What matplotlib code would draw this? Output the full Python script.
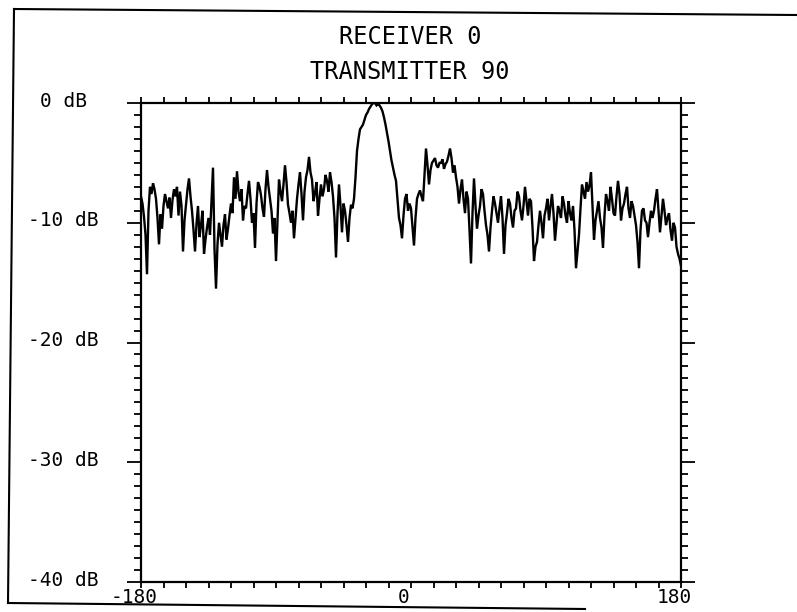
import matplotlib
matplotlib.use("Agg")
import matplotlib.pyplot as plt
import matplotlib.transforms as mtransforms
from matplotlib.lines import Line2D
from matplotlib.ticker import MultipleLocator, FixedLocator

# measured pattern, one sample per degree from -180 to 180
angles = list(range(-180, 181))
levels_db = [
    -7.8, -8.4, -9.5, -11.0, -14.3, -9.0, -7.0, -7.6, -6.7, -7.2,
    -8.0, -9.6, -11.8, -9.3, -10.5, -8.6, -7.6, -8.2, -8.8, -7.9,
    -9.6, -8.1, -7.2, -7.8, -7.0, -9.4, -7.4, -8.6, -12.4, -9.8,
    -8.5, -7.2, -6.3, -7.8, -9.0, -10.6, -12.4, -10.1, -8.6, -11.2,
    -10.2, -9.0, -12.6, -11.4, -10.4, -9.6, -11.0, -8.2, -5.4, -12.2,
    -15.5, -11.8, -10.0, -11.0, -12.0, -10.2, -9.3, -11.4, -10.5, -9.4,
    -8.4, -9.2, -6.2, -8.0, -5.7, -7.4, -8.2, -7.2, -9.8, -8.6,
    -8.8, -7.6, -6.5, -8.0, -10.0, -9.2, -12.1, -8.4, -6.6, -7.0,
    -7.7, -8.8, -9.5, -7.2, -5.6, -7.0, -8.0, -9.0, -10.9, -9.6,
    -13.2, -9.8, -6.4, -7.4, -8.2, -6.8, -5.2, -6.6, -8.5, -9.2,
    -10.0, -9.0, -11.3, -9.6, -8.0, -6.8, -5.8, -7.6, -9.8, -7.4,
    -6.2, -5.6, -4.5, -5.8, -6.4, -8.2, -7.5, -6.6, -9.4, -8.0,
    -6.8, -7.8, -7.2, -6.0, -6.5, -7.4, -5.8, -6.6, -7.8, -9.6,
    -12.9, -9.2, -6.8, -8.6, -10.8, -8.4, -9.0, -10.2, -11.6, -9.6,
    -8.5, -8.8, -8.0, -6.2, -4.0, -3.0, -2.2, -2.0, -1.8, -1.4,
    -1.0, -0.8, -0.5, -0.3, -0.1, 0.0, 0.0, -0.2, -0.1, -0.2,
    -0.4, -0.7, -1.2, -1.8, -2.5, -3.2, -4.0, -4.8, -5.4, -6.0,
    -6.5, -8.0, -9.6, -10.2, -11.3, -9.4, -8.0, -7.6, -9.0, -8.4,
    -8.8, -10.4, -11.9, -9.6, -8.0, -7.6, -7.3, -7.8, -8.2, -6.0,
    -3.8, -5.2, -6.8, -5.6, -5.0, -4.8, -4.6, -5.2, -5.4, -5.0,
    -5.0, -4.7, -5.5, -5.1, -4.9, -4.4, -3.8, -4.6, -5.8, -5.2,
    -6.2, -7.0, -8.4, -7.2, -6.4, -8.0, -9.2, -7.4, -8.0, -10.6,
    -13.4, -9.2, -6.3, -8.6, -10.5, -9.4, -8.6, -7.2, -7.6, -9.0,
    -10.2, -11.0, -12.4, -10.4, -9.0, -7.8, -8.4, -9.2, -10.0, -8.8,
    -7.8, -9.6, -12.6, -10.2, -9.2, -8.0, -8.4, -9.6, -10.4, -9.0,
    -8.8, -7.4, -7.8, -9.0, -9.8, -8.6, -7.0, -8.2, -9.4, -8.0,
    -8.2, -10.4, -13.2, -12.0, -11.6, -10.2, -9.0, -10.0, -11.3, -9.4,
    -8.8, -8.0, -9.8, -8.6, -7.6, -9.2, -11.5, -10.0, -8.6, -9.0,
    -9.6, -7.8, -8.4, -9.4, -10.0, -8.2, -9.2, -9.8, -8.6, -10.6,
    -13.8, -12.4, -11.0, -8.8, -6.8, -7.4, -8.0, -6.6, -7.4, -6.9,
    -5.8, -8.6, -11.4, -9.8, -9.0, -8.2, -9.6, -10.4, -12.1, -9.4,
    -7.6, -8.2, -9.0, -7.0, -8.0, -9.2, -9.4, -7.8, -6.5, -7.6,
    -9.8, -8.8, -8.4, -7.6, -7.0, -8.8, -9.6, -8.2, -8.6, -9.4,
    -10.2, -11.6, -13.8, -10.6, -9.0, -8.8, -9.8, -10.0, -11.2, -10.0,
    -9.0, -9.6, -9.0, -8.0, -7.2, -9.0, -10.8, -9.4, -8.0, -9.0,
    -10.2, -9.6, -9.2, -10.6, -11.5, -10.0, -10.4, -12.0, -12.6, -13.0,
    -13.6,
]

title_lines = ["RECEIVER 0", "TRANSMITTER 90"]
x_ticks = [-180, 0, 180]
x_labels = ["-180", "0", "180"]
y_ticks = [0, -10, -20, -30, -40]
y_labels = ["0 dB", "-10 dB", "-20 dB", "-30 dB", "-40 dB"]

W, H = 797, 612
fig = plt.figure(figsize=(W / 100, H / 100), dpi=100)


def fx(px):
    return px / W


def fy(py):
    return 1 - py / H


ax = fig.add_axes([fx(141), fy(582), fx(681) - fx(141), fy(103) - fy(582)])
ax.plot(angles, levels_db, color="black", linewidth=1.7, solid_joinstyle="miter")

ax.set_xlim(-180, 180)
ax.set_ylim(-40, 0)

ax.xaxis.set_major_locator(FixedLocator(x_ticks))
ax.xaxis.set_minor_locator(MultipleLocator(15))
ax.set_xticklabels(x_labels)
ax.yaxis.set_major_locator(FixedLocator(y_ticks))
ax.yaxis.set_minor_locator(MultipleLocator(1))
ax.set_yticklabels(y_labels)

for side in ax.spines.values():
    side.set_linewidth(1.6)

ax.tick_params(axis="both", which="both", direction="out", color="black",
               top=True, right=True, width=1.3)
ax.tick_params(axis="x", which="both", length=4, pad=0, labelsize=14)
ax.tick_params(axis="y", which="minor", length=5)
ax.tick_params(axis="y", which="major", length=10, pad=46, labelsize=14)

# plotter-style label placement: x labels slightly left, y labels centred
shift_x = mtransforms.ScaledTranslation(-7 / 100, 0, fig.dpi_scale_trans)
for lab in ax.get_xticklabels():
    lab.set_transform(lab.get_transform() + shift_x)
    lab.set_family("DejaVu Sans Mono")
shift_y = mtransforms.ScaledTranslation(0, 4 / 100, fig.dpi_scale_trans)
for lab in ax.get_yticklabels():
    lab.set_horizontalalignment("center")
    lab.set_transform(lab.get_transform() + shift_y)
    lab.set_family("DejaVu Sans Mono")

fig.text(fx(410), fy(37), title_lines[0], ha="center", va="center",
         fontsize=17, family="DejaVu Sans Mono")
fig.text(fx(410), fy(72), title_lines[1], ha="center", va="center",
         fontsize=17, family="DejaVu Sans Mono")

# outer page frame, a little skewed
frame = [((14, 9), (797, 15)), ((14, 9), (8, 603)), ((8, 603), (585, 609))]
for (x0, y0), (x1, y1) in frame:
    fig.add_artist(Line2D([fx(x0), fx(x1)], [fy(y0), fy(y1)],
                          transform=fig.transFigure, color="black", linewidth=1.5))

fig.savefig("out.png", dpi=100)
